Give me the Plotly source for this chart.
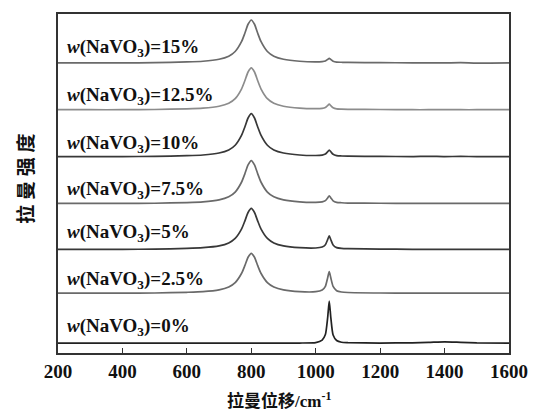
import plotly.graph_objects as go

# Raman shift grid (cm^-1)
shift = [200, 300, 400, 500, 600, 650, 700, 730, 750, 770, 780, 790, 800, 810, 820, 830,
         850, 870, 900, 950, 1000, 1020, 1030, 1037, 1042, 1047, 1054, 1065, 1080, 1100,
         1200, 1300, 1350, 1400, 1450, 1500, 1600]

# Intensities (arbitrary units, stacked as shown in the figure)
labels = ["w(NaVO3)=15%", "w(NaVO3)=12.5%", "w(NaVO3)=10%", "w(NaVO3)=7.5%",
          "w(NaVO3)=5%", "w(NaVO3)=2.5%", "w(NaVO3)=0%"]
label_text = ["<i>w</i>(NaVO<sub>3</sub>)=15%", "<i>w</i>(NaVO<sub>3</sub>)=12.5%",
              "<i>w</i>(NaVO<sub>3</sub>)=10%", "<i>w</i>(NaVO<sub>3</sub>)=7.5%",
              "<i>w</i>(NaVO<sub>3</sub>)=5%", "<i>w</i>(NaVO<sub>3</sub>)=2.5%",
              "<i>w</i>(NaVO<sub>3</sub>)=0%"]
label_y = [306, 258, 210, 163, 120, 73, 26]

s15 = [291, 291, 291, 291.2, 291.9, 292.6, 294.6, 297.7, 302.4, 312.5, 320.7, 329.7, 334,
       329.7, 320.7, 312.5, 302.4, 297.7, 294.6, 292.6, 292.0, 292.3, 292.9, 294.4, 295.6,
       294.4, 292.7, 291.8, 291.6, 291.4, 291.2, 291, 291, 291, 291.2, 290.8, 291]
s125 = [244, 244, 244, 244.2, 244.9, 245.6, 247.5, 250.5, 255.1, 265, 273, 281.8, 286,
        281.8, 273, 265, 255.1, 250.5, 247.5, 245.6, 245.1, 245.4, 246.2, 248.1, 249.6,
        248, 246, 244.9, 244.6, 244.4, 244.2, 244, 244, 244.2, 244, 244, 244]
s10 = [197, 197, 197, 197.2, 197.9, 198.6, 200.6, 203.7, 208.4, 218.5, 226.7, 235.7, 240,
       235.7, 226.7, 218.5, 208.4, 203.7, 200.6, 198.6, 198.1, 198.5, 199.5, 201.8, 203.6,
       201.8, 199.3, 198, 197.6, 197.4, 197.2, 197, 197.3, 197, 197.2, 197, 197]
s75 = [150, 150, 150, 150.2, 150.9, 151.6, 153.6, 156.7, 161.4, 171.5, 179.7, 188.7, 193,
       188.7, 179.7, 171.5, 161.4, 156.7, 153.6, 151.6, 151.1, 151.6, 152.8, 155.5, 157.6,
       155.5, 152.6, 151.1, 150.7, 150.4, 150.2, 150, 150, 150, 150, 150, 150]
s5 = [104, 104, 104, 104.2, 104.9, 105.6, 107.4, 110.4, 114.9, 124.5, 132.3, 140.9, 145,
      140.9, 132.3, 124.5, 114.9, 110.4, 107.4, 105.6, 105.3, 106.3, 108.6, 113.7, 117.6,
      113.6, 108.4, 105.7, 104.9, 104.6, 104.2, 104, 104, 104, 104, 104, 104]
s25 = [60, 60, 60, 60.2, 60.9, 61.5, 63.3, 66.2, 70.6, 80, 87.6, 96, 100,
       96, 87.6, 80, 70.6, 66.2, 63.3, 61.5, 61.5, 63.2, 66.9, 75.3, 81.6,
       75.2, 66.8, 62.5, 61.2, 60.7, 60.2, 60, 60, 60, 60, 60, 60]
s0 = [10, 10, 10, 10, 10, 10, 10, 10, 10, 10, 10, 10, 10,
      10, 10, 10, 10, 10, 10, 10, 10.4, 13.0, 18.5, 35.2, 52,
      35.2, 18.0, 12.5, 10.8, 10.4, 10, 10.2, 10.6, 11.2, 10.7, 10.2, 10]

series = [s15, s125, s10, s75, s5, s25, s0]
colors = ["#6a6a6a", "#8c8c8c", "#383838", "#6a6a6a", "#383838", "#6a6a6a", "#222222"]

x_ticks = [200, 400, 600, 800, 1000, 1200, 1400, 1600]

SERIF = "Liberation Serif"
CJK = "Noto Sans CJK SC"

fig = go.Figure()
for name, ys, c in zip(labels, series, colors):
    fig.add_trace(go.Scatter(x=shift, y=ys, mode="lines", name=name,
                             line=dict(color=c, width=1.7, shape="spline", smoothing=0.6),
                             showlegend=False))

for t, yv in zip(label_text, label_y):
    fig.add_annotation(x=222, y=yv, xref="x", yref="y", text=t, showarrow=False,
                       xanchor="left", yanchor="middle",
                       font=dict(family=SERIF, size=19, color="#111", weight="bold"))

# pixel-derived position of the vertical title
pw, ph = 540 - 58 - 28, 413 - 13 - 60
fig.add_annotation(x=(24 - 58) / pw, y=(353 - 178) / ph, xref="x domain", yref="y domain",
                   text="拉\u2005曼\u2005强\u2005度", showarrow=False, textangle=-90,
                   xanchor="center", yanchor="middle",
                   font=dict(family=CJK, size=19, color="#111", weight="bold"))

# x-axis title as annotation for exact placement
fig.add_annotation(x=(280 - 58) / pw, y=(353 - 400) / ph, xref="x domain", yref="y domain",
                   text=("拉曼位移<span style=\"font-family:'Liberation Serif'\">/cm"
                         "<sup>-1</sup></span>"),
                   showarrow=False, xanchor="center", yanchor="middle",
                   font=dict(family=CJK, size=17, color="#111", weight="bold"))

fig.update_layout(
    width=540, height=413,
    margin=dict(l=58, r=28, t=13, b=60),
    paper_bgcolor="white", plot_bgcolor="white",
    xaxis=dict(range=[200, 1600], tickvals=x_ticks, ticks="inside", ticklen=5,
               tickwidth=1.2, tickcolor="#333", showline=True, linecolor="#333",
               linewidth=1.6, mirror=True, showgrid=False, zeroline=False,
               tickfont=dict(family=SERIF, size=19, color="#111", weight="bold")),
    yaxis=dict(range=[0, 340], showticklabels=False, ticks="", showline=True,
               linecolor="#333", linewidth=1.6, mirror=True, showgrid=False,
               zeroline=False),
)

fig.write_html("out.html")
